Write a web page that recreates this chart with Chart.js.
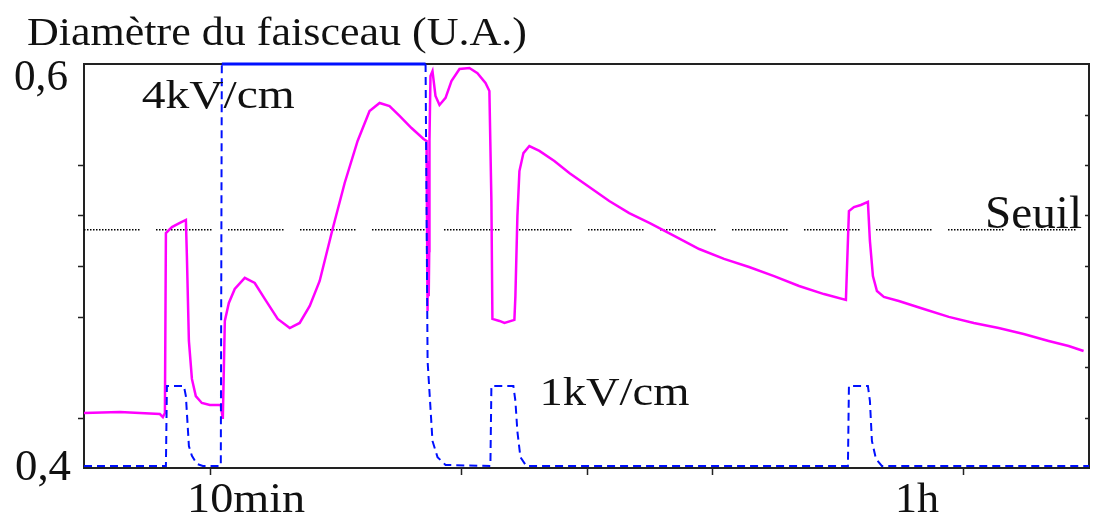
<!DOCTYPE html>
<html>
<head>
<meta charset="utf-8">
<script src="https://cdn.jsdelivr.net/npm/chart.js@4"></script>
<style>
  html, body { margin: 0; padding: 0; background: #fff; }
  #wrap { width: 1093px; height: 520px; position: relative; }
</style>
</head>
<body>
<div id="wrap"><canvas id="beamChart"></canvas></div>
<script>
// temps (min) et diamètre du faisceau (U.A.)
const beamTime = [0, 2.86, 4.45, 6.04, 6.28, 6.44, 6.52, 7.0, 7.63, 8.11, 8.19, 8.35, 8.59, 8.9, 9.38, 10.02, 10.89,
  11.05, 11.21, 11.53, 12.0, 12.8, 13.59, 14.39, 15.42, 16.38, 17.17, 17.97, 18.76, 19.79, 20.75, 21.78, 22.73,
  23.53, 24.32, 25.12, 26.07, 27.03, 27.27, 27.35, 27.4, 27.44, 27.48, 27.5, 27.58, 27.74, 27.98, 28.3, 28.78, 29.25, 29.89,
  30.68, 31.32, 31.96, 32.27, 32.43, 32.51, 33.07, 33.47, 34.26, 34.34, 34.5, 34.66, 34.98, 35.45, 36.25, 37.44,
  38.63, 40.22, 41.81, 43.4, 45.0, 46.98, 48.97, 50.95, 52.94, 54.93, 56.92, 58.9, 60.65, 60.89, 61.29, 61.84,
  62.4, 62.56, 62.8, 63.12, 63.67, 64.86, 66.85, 68.84, 70.83, 72.81, 74.8, 76.79, 78.38, 79.57];
const beamDiam = [0.4272, 0.4277, 0.4272, 0.4267, 0.4252, 0.4272, 0.5163, 0.5193, 0.5213, 0.5228, 0.505, 0.4629,
  0.4441, 0.4356, 0.4322, 0.4312, 0.4312, 0.4243, 0.4728, 0.4817, 0.4886, 0.4941, 0.4916, 0.4837, 0.4738, 0.4693,
  0.4718, 0.4802, 0.4926, 0.5183, 0.5411, 0.5619, 0.5767, 0.5807, 0.5792, 0.5743, 0.5683, 0.5629, 0.5619, 0.4777,
  0.552, 0.485, 0.5074, 0.5619, 0.5941, 0.5965, 0.5842, 0.5797, 0.5832, 0.5916, 0.5975, 0.598, 0.5955, 0.5906, 0.5866, 0.5322,
  0.4738, 0.4728, 0.4718, 0.4733, 0.4851, 0.5248, 0.547, 0.5559, 0.5594, 0.557, 0.552, 0.546, 0.5391, 0.5322,
  0.5262, 0.5213, 0.5149, 0.5084, 0.5035, 0.4995, 0.495, 0.4901, 0.4861, 0.4832, 0.5272, 0.5292, 0.5302, 0.5317,
  0.5124, 0.495, 0.4876, 0.4847, 0.4827, 0.4787, 0.4748, 0.4718, 0.4693, 0.4663, 0.4629, 0.4604, 0.4579];

// champ appliqué (tracé en pointillés bleus)
const fieldTime = [0, 6.52, 6.6, 7.95, 8.11, 8.35, 8.59, 8.98, 9.46, 10.89, 10.97, 27.19, 27.35, 27.74, 28.14,
  28.78, 32.35, 32.43, 34.18, 34.34, 34.5, 34.74, 35.21, 60.81, 60.89, 62.4, 62.56, 62.72, 63.04, 63.51, 80];
const fieldLevel = [0.401, 0.401, 0.4406, 0.4406, 0.4356, 0.4109, 0.406, 0.402, 0.401, 0.401, 0.6, 0.6, 0.453,
  0.4134, 0.4054, 0.4015, 0.401, 0.4406, 0.4406, 0.4332, 0.418, 0.4054, 0.401, 0.401, 0.4406, 0.4406, 0.4332,
  0.4134, 0.4045, 0.401, 0.401];

const seuil = 0.518;
const xTicks = [10, 30, 40, 50, 70];
const yTicksLeft = [0.425, 0.475, 0.5, 0.525, 0.55];
const yTicksRight = [0.425, 0.45, 0.475, 0.5, 0.525, 0.55, 0.575];

const toPoints = (xs, ys) => xs.map((x, i) => ({ x: x, y: ys[i] }));

// pointillé par groupes : ~19 points puis un blanc
const dotDash = [];
for (let i = 0; i < 19; i++) dotDash.push(1.5, 1.5);
dotDash[dotDash.length - 1] = 16.5;

const SERIF = '"Liberation Serif", "DejaVu Serif", serif';

function fitText(ctx, str, x, y, size, width, align) {
    ctx.save();
    ctx.font = size + 'px ' + SERIF;
    const w = ctx.measureText(str).width;
    const sx = width / w;
    let left = x;
    if (align === 'right') left = x - width;
    if (align === 'center') left = x - width / 2;
    ctx.translate(left, y);
    ctx.scale(sx, 1);
    ctx.textAlign = 'left';
    ctx.textBaseline = 'alphabetic';
    ctx.fillStyle = '#111';
    ctx.fillText(str, 0, 0);
    ctx.restore();
}

const framePlugin = {
    id: 'frame',
    beforeDatasetsDraw(chart) {
        const { ctx, chartArea: a, scales: { x, y } } = chart;
        ctx.save();
        ctx.strokeStyle = '#222';
        ctx.lineWidth = 2;
        ctx.strokeRect(a.left, a.top, a.right - a.left, a.bottom - a.top);
        ctx.lineWidth = 1.5;
        ctx.beginPath();
        yTicksLeft.forEach(v => {
            const py = Math.round(y.getPixelForValue(v)) + 0.5;
            ctx.moveTo(a.left - 6, py); ctx.lineTo(a.left, py);
        });
        yTicksRight.forEach(v => {
            const py = Math.round(y.getPixelForValue(v)) + 0.5;
            ctx.moveTo(a.right - 4, py); ctx.lineTo(a.right, py);
        });
        xTicks.forEach(v => {
            const px = Math.round(x.getPixelForValue(v)) + 0.5;
            ctx.moveTo(px, a.bottom); ctx.lineTo(px, a.bottom + 7);
        });
        ctx.stroke();
        ctx.restore();
    },
    afterDraw(chart) {
        const { ctx, chartArea: a, scales: { x, y } } = chart;
        fitText(ctx, 'Diamètre du faisceau (U.A.)', a.left - 57, a.top - 19, 40, 500, 'left');
        fitText(ctx, '0,6', a.left - 16, y.getPixelForValue(0.6) + 26, 44, 54, 'right');
        fitText(ctx, '0,4', a.left - 13, y.getPixelForValue(0.4) + 12, 44, 56, 'right');
        fitText(ctx, '10min', x.getPixelForValue(12.9), a.bottom + 44, 42, 118, 'center');
        fitText(ctx, '1h', x.getPixelForValue(66.3), a.bottom + 44, 42, 44, 'center');
        fitText(ctx, '4kV/cm', x.getPixelForValue(4.6), y.getPixelForValue(0.578), 40, 153, 'left');
        fitText(ctx, '1kV/cm', x.getPixelForValue(36.25), y.getPixelForValue(0.431), 40, 150, 'left');
        fitText(ctx, 'Seuil', a.right - 7, y.getPixelForValue(seuil) - 2, 46, 97, 'right');
    }
};

new Chart(document.getElementById('beamChart'), {
    type: 'line',
    data: {
        datasets: [
            {
                label: 'champ',
                data: toPoints(fieldTime, fieldLevel),
                borderColor: '#0010ff',
                borderWidth: 2,
                borderDash: [8, 5],
                segment: {
                    borderDash: c => (c.p0.parsed.y >= 0.6 && c.p1.parsed.y >= 0.6) ? [] : undefined,
                    borderWidth: c => (c.p0.parsed.y >= 0.6 && c.p1.parsed.y >= 0.6) ? 3 : undefined
                },
                pointRadius: 0,
                clip: 4,
                order: 0
            },
            {
                label: 'diamètre',
                data: toPoints(beamTime, beamDiam),
                borderColor: '#ff00ff',
                borderWidth: 2.5,
                pointRadius: 0,
                clip: 4,
                order: 1
            },
            {
                label: 'seuil',
                data: [{ x: 0, y: seuil }, { x: 80, y: seuil }],
                borderColor: '#000',
                borderWidth: 1.5,
                borderDash: dotDash,
                pointRadius: 0,
                order: 2
            }
        ]
    },
    options: {
        responsive: true,
        maintainAspectRatio: false,
        animation: false,
        layout: { padding: { left: 84, right: 4, top: 64, bottom: 52 } },
        scales: {
            x: { type: 'linear', min: 0, max: 80, display: false },
            y: { type: 'linear', min: 0.4, max: 0.6, display: false }
        },
        plugins: {
            legend: { display: false },
            tooltip: { enabled: false }
        }
    },
    plugins: [framePlugin]
});
</script>
</body>
</html>
